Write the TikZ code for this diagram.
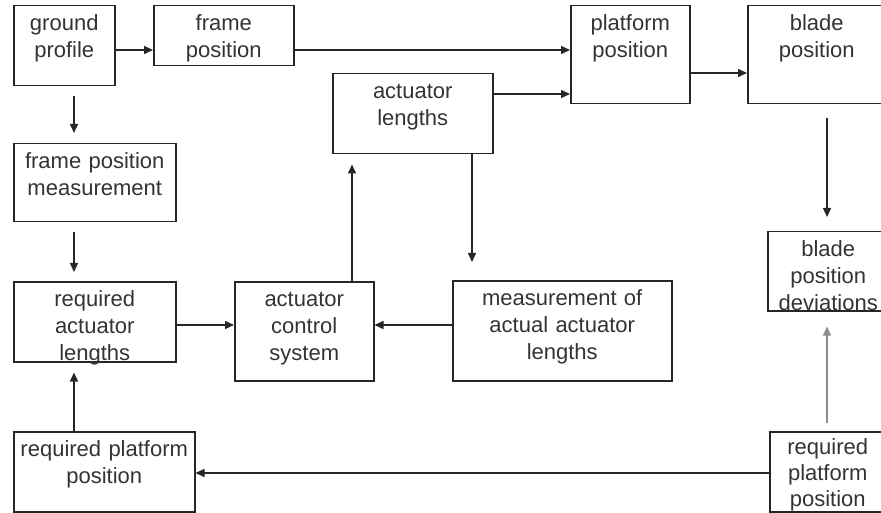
\documentclass[tikz,border=0pt]{standalone}
\usepackage{fontspec}
\setmainfont{Liberation Sans}
\usetikzlibrary{arrows.meta}

\begin{document}
\begin{tikzpicture}[x=1pt,y=-1pt,
  blk/.style={draw=black!85, line width=1.5pt, anchor=north west, inner xsep=0pt, inner ysep=0pt,
    align=center, text=black!80, font=\fontsize{22}{27}\selectfont, text height=25pt},
  flow/.style={draw=black!85, line width=1.5pt, -{Triangle[length=9pt,width=8pt]}}]
\useasboundingbox (0,0) rectangle (881,513);
\clip (0,0) rectangle (881,513);
% top row
\node[blk, text width=101pt, text depth=55pt] (ground) at (13,5) {ground\\profile};
\node[blk, text width=140pt, text depth=35pt] (framepos) at (153,5) {frame\\position};
\node[blk, text width=119pt, text depth=73pt] (platform) at (570,5) {platform\\position};
\node[blk, text width=138pt, text depth=73pt] (blade) at (747,5) {blade\\position};
\node[blk, text width=160pt, text depth=55pt] (actlen) at (332,73) {actuator\\lengths};
% middle
\node[blk, text width=162pt, text depth=53pt] (framemeas) at (13,143) {frame position\\measurement};
\node[blk, text width=121pt, text depth=54pt] (deviation) at (767,231) {blade\\position\\deviations};
\node[blk, text width=162pt, text depth=55pt] (reqact) at (13,281) {required\\actuator\\lengths};
\node[blk, text width=139pt, text depth=74pt] (ctrl) at (234,281) {actuator\\control\\system};
\node[blk, text width=219pt, text depth=75pt] (measact) at (452,280) {measurement of\\actual actuator\\lengths};
% bottom row
\node[blk, text width=181pt, text depth=55pt] (reqplatL) at (13,431) {required platform\\position};
\node[blk, text width=116pt, text height=23pt, text depth=57pt, font=\fontsize{22}{26}\selectfont] (reqplatR) at (769,431) {required\\platform\\position};

% horizontal connectors
\draw[flow] ([yshift=-45pt]ground.north east) -- ([yshift=-45pt]framepos.north west);
\draw[flow] ([yshift=-45pt]framepos.north east) -- ([yshift=-45pt]platform.north west);
\draw[flow] ([yshift=-21pt]actlen.north east) -- ([yshift=-89pt]platform.north west);
\draw[flow] ([yshift=-68pt]platform.north east) -- ([yshift=-68pt]blade.north west);
\draw[flow] ([yshift=-44pt]reqact.north east) -- ([yshift=-44pt]ctrl.north west);
\draw[flow] ([yshift=-45pt]measact.north west) -- ([yshift=-44pt]ctrl.north east);
\draw[flow] ([yshift=-42pt]reqplatR.north west) -- ([yshift=-42pt]reqplatL.north east);
% vertical connectors
\draw[flow, shorten <=10pt, shorten >=10pt] ([xshift=61pt]ground.south west) -- ([xshift=61pt]framemeas.north west);
\draw[flow, shorten <=10pt, shorten >=9pt] ([xshift=61pt]framemeas.south west) -- ([xshift=61pt]reqact.north west);
\draw[flow, shorten >=10pt] ([xshift=61pt]reqplatL.north west) -- ([xshift=61pt]reqact.south west);
\draw[flow, shorten >=10pt] ([xshift=118pt]ctrl.north west) -- ([xshift=20pt]actlen.south west);
\draw[flow, shorten >=18pt] ([xshift=140pt]actlen.south west) -- ([xshift=20pt]measact.north west);
\draw[flow, shorten <=14pt, shorten >=14pt] ([xshift=80pt]blade.south west) -- ([xshift=60pt]deviation.north west);
\draw[flow, draw=black!45, shorten <=8pt, shorten >=15pt] ([xshift=58pt]reqplatR.north west) -- ([xshift=60pt]deviation.south west);
\end{tikzpicture}
\end{document}
